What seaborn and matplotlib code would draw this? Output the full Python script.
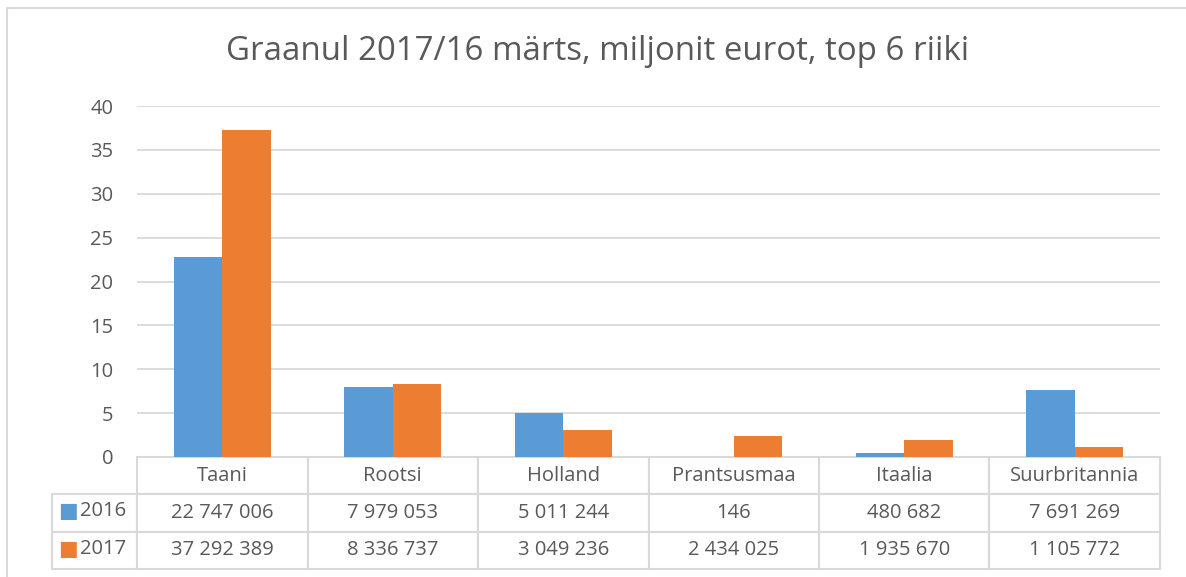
import matplotlib.pyplot as plt
import pandas as pd
import seaborn as sns
from matplotlib.patches import Rectangle

countries = ["Taani", "Rootsi", "Holland", "Prantsusmaa", "Itaalia", "Suurbritannia"]
years = ["2016", "2017"]
values_2016 = [22747006, 7979053, 5011244, 146, 480682, 7691269]
values_2017 = [37292389, 8336737, 3049236, 2434025, 1935670, 1105772]
colors = ["#5B9BD5", "#ED7D31"]
title = "Graanul 2017/16 märts, miljonit eurot, top 6 riiki"

TEXT = "#595959"
GRID = "#D9D9D9"


def fmt(v):
    return f"{v:,}".replace(",", " ")


df = pd.DataFrame({
    "riik": countries * 2,
    "aasta": [years[0]] * len(countries) + [years[1]] * len(countries),
    "eurot": values_2016 + values_2017,
})
df["miljonit"] = df["eurot"] / 1e6

sns.set_theme(style="white")
plt.rcParams["font.family"] = ["Open Sans", "DejaVu Sans"]

W, H = 1186, 577
fig = plt.figure(figsize=(W / 100, H / 100), dpi=100)

# outer chart frame (cut by the screenshot on the right and bottom)
fig.add_artist(Rectangle((7 / W, -0.05), 1.1, 1 - 7.5 / H + 0.05,
                         transform=fig.transFigure, fill=False,
                         edgecolor=GRID, linewidth=1.5))

ax = fig.add_axes([137 / W, (H - 457) / H, (1160 - 137) / W, (457 - 106) / H])
sns.barplot(data=df, x="riik", y="miljonit", hue="aasta", hue_order=years,
            palette=colors, width=0.57, gap=0, saturation=1, ax=ax,
            legend=False, errorbar=None, linewidth=0)

ax.set_ylim(0, 40)
ax.set_yticks(range(0, 41, 5))
ax.set_xlim(-0.5, len(countries) - 0.5)
ax.yaxis.grid(True, color=GRID, linewidth=1.3)
ax.set_axisbelow(True)
for s in ax.spines.values():
    s.set_visible(False)
ax.tick_params(axis="y", length=0, pad=17, labelsize=14.5, labelcolor=TEXT)
ax.set_xticks([])
ax.set_xlabel("")
ax.set_ylabel("")

# data table below the plot; first column holds the legend keys
row_w = 85 / 1023
tbl = ax.table(
    cellText=[[""] + [fmt(v) for v in values_2016],
              [""] + [fmt(v) for v in values_2017]],
    colLabels=[""] + countries,
    colWidths=[row_w] + [1 / 6] * 6,
    cellLoc="center",
    bbox=[-row_w, -112 / 351, 1 + row_w, 112 / 351],
)
tbl.auto_set_font_size(False)
for (r, c), cell in tbl.get_celld().items():
    cell.set_edgecolor(GRID)
    cell.set_linewidth(1.5)
    cell.get_text().set_fontsize(14.5)
    cell.get_text().set_color(TEXT)
    if r == 0 and c == 0:
        cell.visible_edges = ""

row_y = [(457 - 510.5) / 351, (457 - 549.5) / 351]
for y, yr, col in zip(row_y, years, colors):
    ax.text((68 - 137) / 1023, y, "■", transform=ax.transAxes, ha="center",
            va="center", color=col, fontsize=15, clip_on=False,
            family=["DejaVu Sans"])
    ax.text((80 - 137) / 1023, y, yr, transform=ax.transAxes, ha="left",
            va="center", color=TEXT, fontsize=14.5, clip_on=False)

fig.text(598 / W, 1 - 52 / H, title, ha="center", va="center",
         fontsize=23.8, color=TEXT)

fig.savefig("out.png", dpi=100)
